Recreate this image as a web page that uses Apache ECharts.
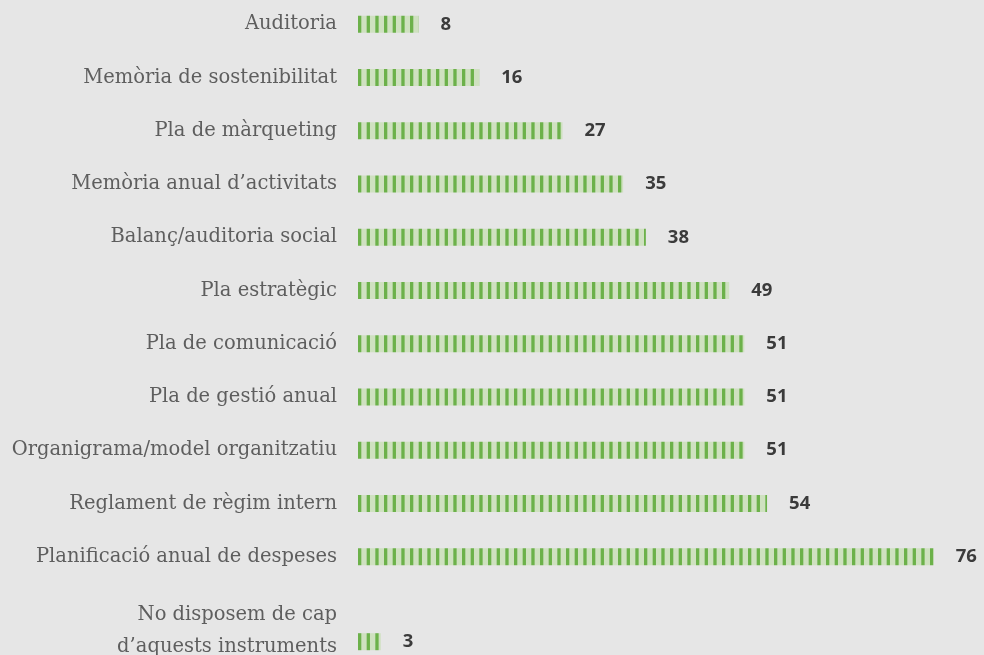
<!DOCTYPE html>
<html>
<head>
<meta charset="utf-8">
<script src="https://cdn.jsdelivr.net/npm/echarts@6/dist/echarts.min.js"></script>
<style>
  html, body { margin: 0; padding: 0; background: #e6e6e6; }
  #chart { width: 984px; height: 655px; }
</style>
</head>
<body>
<div id="chart"></div>
<script>
const categories = [
  'Auditoria',
  'Memòria de sostenibilitat',
  'Pla de màrqueting',
  'Memòria anual d’activitats',
  'Balanç/auditoria social',
  'Pla estratègic',
  'Pla de comunicació',
  'Pla de gestió anual',
  'Organigrama/model organitzatiu',
  'Reglament de règim intern',
  'Planificació anual de despeses',
  'No disposem de cap\nd’aquests instruments'
]
const values = [8, 16, 27, 35, 38, 49, 51, 51, 51, 54, 76, 3]

// the last row has a two-line label, so it sits in its own grid below the rest
const mainCats = categories.slice(0, 11)
const mainVals = values.slice(0, 11)
const lastCats = categories.slice(11)
const lastVals = values.slice(11)

// striped fill: dark green bars over a pale green base
// (pattern is anchored to the canvas, offsets chosen so a dark stripe starts at the bar's left edge)
const stripe = document.createElement('canvas')
stripe.width = 26
stripe.height = 20
const sctx = stripe.getContext('2d')
sctx.fillStyle = '#cfe1c0'
sctx.fillRect(0, 0, 26, 20)
sctx.fillStyle = '#6cb14a'
;[2.67, 11.33, 20].forEach(x => sctx.fillRect(x, 0, 3.3, 20))

const chart = echarts.init(document.getElementById('chart'))

const labelFont = {
  color: '#5e5e5e',
  fontFamily: 'DejaVu Serif',
  fontSize: 19.5,
  margin: 21
}

const valueLabel = {
  show: true,
  position: 'right',
  distance: 22,
  color: '#3b3b3b',
  fontFamily: 'Open Sans',
  fontWeight: 'bold',
  fontSize: 18.5
}

const xAxisBase = {
  type: 'value',
  min: 0,
  max: 80,
  show: false
}

chart.setOption({
  backgroundColor: '#e6e6e6',
  animation: false,
  grid: [
    { left: 358, right: 20, top: -2.3, height: 585.6, outerBoundsMode: 'none' },
    { left: 358, right: 20, top: 630, height: 23.4, outerBoundsMode: 'none' }
  ],
  xAxis: [
    { ...xAxisBase, gridIndex: 0 },
    { ...xAxisBase, gridIndex: 1 }
  ],
  yAxis: [
    {
      type: 'category',
      gridIndex: 0,
      data: mainCats,
      inverse: true,
      axisLine: { show: false },
      axisTick: { show: false },
      axisLabel: labelFont
    },
    {
      type: 'category',
      gridIndex: 1,
      data: lastCats,
      axisLine: { show: false },
      axisTick: { show: false },
      axisLabel: {
        ...labelFont,
        // first line sits well above the bar, second line level with it
        formatter: v => {
          const [a, b] = v.split('\n')
          return '{a|' + a + '}\n{b|' + b + '}'
        },
        rich: {
          a: { ...labelFont, lineHeight: 10, align: 'right' },
          b: { ...labelFont, lineHeight: 54, align: 'right' }
        }
      }
    }
  ],
  series: [
    {
      type: 'bar',
      xAxisIndex: 0,
      yAxisIndex: 0,
      data: mainVals,
      barWidth: 17,
      itemStyle: { color: { image: stripe, repeat: 'repeat' } },
      label: valueLabel
    },
    {
      type: 'bar',
      xAxisIndex: 1,
      yAxisIndex: 1,
      data: lastVals,
      barWidth: 17,
      itemStyle: { color: { image: stripe, repeat: 'repeat' } },
      label: valueLabel
    }
  ]
})
</script>
</body>
</html>
